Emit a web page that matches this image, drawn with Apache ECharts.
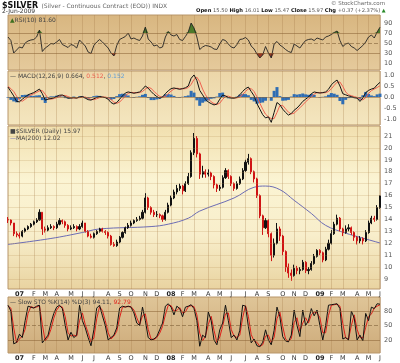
<!DOCTYPE html>
<html><head><meta charset="utf-8">
<script src="https://cdn.jsdelivr.net/npm/echarts@6/dist/echarts.min.js"></script>
<style>html,body{margin:0;padding:0;background:#fff}#c{width:400px;height:363px}</style>
</head><body><div id="c"></div>
<script>
// ---- data (weekly, first week starting 2006-12-04) ----
const startWeek = '2006-12-04';
const monthLetters = ['J','F','M','A','M','J','J','A','S','O','N','D'];
const rsiTicks = [10,30,50,70,90];
const macdTicks = [-1,-0.5,0,0.5,1];
const priceTicks = [9,10,11,12,13,14,15,16,17,18,19,20,21];
const stoTicks = [20,50,80];

// [open, close, low, high]
const priceOHLC = [
[14.0,13.95,13.7,14.2],[13.95,13.7,13.5,14.0],[13.7,12.8,12.6,13.7],[12.8,12.7,12.5,13.0],[12.7,12.6,12.4,12.9],
[12.6,13.0,12.5,13.1],[13.0,13.2,12.9,13.3],[13.2,13.4,13.1,13.5],[13.4,13.6,13.3,13.7],[13.6,13.8,13.5,13.9],
[13.8,13.95,13.7,14.1],[13.95,14.6,13.9,14.85],[14.6,13.2,12.7,14.6],[13.2,13.1,12.9,13.4],[13.1,13.3,13.0,13.5],
[13.3,13.4,13.2,13.6],[13.4,13.3,13.1,13.5],[13.3,13.6,13.2,13.8],[13.6,13.9,13.5,14.1],[13.9,13.8,13.6,14.0],
[13.8,13.5,13.3,13.9],[13.5,13.2,13.0,13.6],[13.2,13.3,13.1,13.5],[13.3,13.4,13.2,13.6],[13.4,13.2,13.0,13.5],
[13.2,13.4,13.1,13.6],[13.4,13.7,13.3,13.9],[13.7,13.0,12.9,13.7],[13.0,12.6,12.5,13.1],[12.6,12.5,12.4,12.8],
[12.5,12.8,12.4,12.9],[12.8,13.0,12.7,13.1],[13.0,13.2,12.9,13.3],[13.2,13.0,12.9,13.3],[13.0,12.9,12.7,13.1],
[12.9,12.6,12.4,13.0],[12.6,11.9,11.8,12.7],[11.9,11.8,11.7,12.1],[11.8,12.1,11.7,12.3],[12.1,12.5,12.0,12.6],
[12.5,12.9,12.4,13.0],[12.9,13.3,12.8,13.4],[13.3,13.5,13.2,13.7],[13.5,13.7,13.4,13.9],[13.7,13.9,13.6,14.0],
[13.9,14.0,13.8,14.2],[14.0,14.1,13.9,14.3],[14.1,14.6,14.0,14.8],[14.6,15.8,14.5,16.2],[15.8,15.0,14.8,15.9],
[15.0,14.6,14.4,15.1],[14.6,14.4,14.2,14.8],[14.4,14.4,14.2,14.7],[14.4,14.3,14.1,14.5],[14.3,14.0,13.8,14.4],
[14.0,14.6,13.9,14.8],[14.6,15.2,14.5,15.4],[15.2,15.8,15.1,16.0],[15.8,16.3,15.7,16.5],[16.3,16.6,16.1,16.9],
[16.6,16.8,16.4,17.0],[16.8,16.4,16.1,16.9],[16.4,17.0,16.3,17.2],[17.0,17.6,16.9,17.9],[17.6,19.6,17.5,19.8],
[19.6,20.8,19.4,21.25],[20.8,19.5,19.2,21.0],[19.5,17.8,17.4,19.6],[17.8,18.0,17.5,18.5],[18.0,17.8,17.5,18.2],
[17.8,17.9,17.6,18.2],[17.9,17.6,17.3,18.0],[17.6,16.9,16.6,17.7],[16.9,16.6,16.3,17.0],[16.6,16.7,16.4,16.9],
[16.7,17.5,16.6,17.7],[17.5,18.1,17.4,18.3],[18.1,17.6,17.4,18.2],[17.6,17.0,16.8,17.7],[17.0,16.6,16.4,17.1],
[16.6,17.0,16.5,17.2],[17.0,17.4,16.9,17.6],[17.4,18.1,17.3,18.3],[18.1,18.8,18.0,19.0],[18.8,19.1,18.6,19.5],
[19.1,18.0,17.8,19.2],[18.0,17.4,17.1,18.1],[17.4,16.0,15.8,17.5],[16.0,14.3,14.1,16.1],[14.3,13.3,12.7,14.4],
[13.3,13.9,13.2,14.1],[13.9,12.8,12.5,14.0],[12.8,11.0,10.5,12.9],[11.0,12.0,10.8,12.4],[12.0,13.2,11.9,13.7],
[13.2,12.6,12.2,13.4],[12.6,11.3,11.0,12.7],[11.3,10.0,9.6,11.4],[10.0,9.5,9.1,10.3],[9.5,9.3,8.85,9.8],
[9.3,9.9,9.2,10.2],[9.9,9.7,9.4,10.1],[9.7,9.8,9.4,10.0],[9.8,10.4,9.7,10.6],[10.4,9.7,9.5,10.5],
[9.7,9.8,9.4,10.0],[9.8,10.3,9.7,10.5],[10.3,10.9,10.2,11.1],[10.9,11.4,10.8,11.5],[11.4,11.2,11.0,11.5],
[11.2,10.6,10.4,11.3],[10.6,11.5,10.5,11.7],[11.5,12.0,11.4,12.3],[12.0,12.8,11.9,13.1],[12.8,13.6,12.7,13.8],
[13.6,14.1,13.5,14.4],[14.1,13.2,13.0,14.2],[13.2,12.9,12.6,13.3],[12.9,13.2,12.8,13.5],[13.2,13.3,13.0,13.6],
[13.3,12.9,12.7,13.4],[12.9,12.5,12.2,13.0],[12.5,12.2,11.9,12.6],[12.2,12.4,12.0,12.6],[12.4,12.2,11.9,12.5],
[12.2,12.9,12.1,13.1],[12.9,13.7,12.8,13.9],[13.7,14.1,13.6,14.3],[14.1,14.0,13.8,14.3],[14.0,15.0,13.9,15.2],
[15.0,15.97,14.9,16.01]
];

// MA(200) read at sparse weeks: [weekIndex, value]
const ma200 = [[0,11.9],[15,12.4],[26,12.9],[32,13.2],[50,13.4],[56,13.6],[63,14.1],[67,14.7],[79,15.8],
[86,16.7],[90,16.8],[95,16.5],[100,15.6],[106,14.5],[111,13.5],[118,12.85],[123,12.5],[130,12.02]];

const rsi = [62,55,30,36,42,40,50,54,56,57,62,76,33,40,44,49,48,52,57,47,44,41,47,45,40,56,50,44,32,29,
45,52,57,52,46,40,30,24,45,57,60,63,70,58,60,57,55,64,82,58,52,44,46,40,42,62,73,66,64,67,
57,55,63,72,90,80,62,37,42,45,44,42,38,37,48,57,55,48,42,40,47,57,58,61,56,44,38,28,20,26,
43,30,20,48,53,46,42,37,33,31,48,44,40,48,55,57,58,55,60,58,56,62,64,67,71,74,55,43,48,50,
43,40,35,40,45,52,62,66,60,72,81.6];

const macd = [.45,.25,.05,-.2,-.22,-.1,0,.1,.15,.2,.28,.36,.15,-.14,-.1,-.07,-.04,.03,.08,.09,
.02,-.05,-.05,-.03,-.05,0,.02,-.05,-.12,-.14,-.08,-.02,.02,0,-.03,-.1,-.25,-.32,-.25,-.1,
.05,.18,.23,.2,.17,.2,.23,.35,.5,.4,.25,.12,.02,-.05,0,.15,.28,.38,.41,.38,
.35,.38,.42,.5,.85,1.0,.75,.3,.1,-.1,-.23,-.3,-.36,-.32,-.1,.09,.05,-.02,-.05,-.05,
-.02,.1,.25,.38,.45,.25,.05,-.3,-.55,-.8,-.95,-.9,-1.15,-.7,-.25,-.35,-.55,-.7,-.82,-.75,
-.6,-.5,-.36,-.2,-.1,0,.15,.23,.2,.18,.2,.23,.35,.55,.68,.77,.5,.15,.1,.05,
.02,-.03,-.05,-.2,-.05,.2,.3,.36,.4,.55,.664];

const macdSignal = [.48,.38,.25,.04,-.14,-.19,-.1,0,.09,.15,.21,.28,.29,.13,-.06,-.1,-.07,-.03,.03,.07,
.07,.02,-.03,-.05,-.04,-.03,-.01,0,-.05,-.11,-.12,-.08,-.03,0,0,-.04,-.12,-.23,-.29,-.23,
-.1,.05,.16,.21,.2,.19,.2,.25,.36,.44,.39,.26,.13,.03,-.02,.03,.15,.27,.36,.4,
.38,.37,.38,.43,.57,.8,.9,.7,.36,.1,-.08,-.22,-.3,-.34,-.28,-.11,.03,.04,-.01,-.04,
-.04,0,.11,.25,.37,.38,.25,.01,-.28,-.55,-.78,-.9,-.98,-.98,-.7,-.39,-.38,-.54,-.69,-.77,
-.73,-.61,-.49,-.36,-.22,-.1,.01,.13,.2,.2,.19,.2,.25,.37,.53,.67,.68,.48,.23,.1,
.06,.02,-.02,-.08,-.13,-.03,.16,.29,.36,.43,.512];

const macdHist = [-.03,-.13,-.2,-.24,-.08,.09,.1,.1,.06,.05,.07,.08,-.14,-.27,-.04,.03,.03,.06,.05,.02,
-.05,-.07,-.02,.02,-.01,.03,.03,-.05,-.07,-.03,.04,.06,.05,0,-.03,-.06,-.13,-.09,.04,.13,
.15,.13,.07,-.01,-.03,.01,.03,.1,.14,-.04,-.14,-.14,-.11,-.08,.02,.12,.13,.11,.05,-.02,
-.03,.01,.04,.07,.28,.2,-.15,-.4,-.26,-.2,-.15,-.08,-.06,.02,.18,.2,.02,-.06,-.04,-.01,
.02,.1,.14,.13,.08,-.13,-.2,-.31,-.27,-.25,-.17,0,-.17,.28,.45,.04,-.17,-.16,-.13,.02,
.13,.11,.13,.16,.12,.1,.14,.1,0,-.02,.01,.03,.1,.18,.15,.1,-.18,-.33,-.13,-.05,
-.04,-.05,-.03,-.12,.08,.23,.14,.07,.04,.12,.152];

const stoK = [92,80,12,15,32,25,60,90,88,86,90,92,14,22,30,55,75,88,92,85,
50,20,36,25,30,92,60,45,25,8,41,86,92,70,50,20,25,30,45,86,
90,88,90,88,76,55,50,88,60,25,20,22,27,41,55,90,95,88,72,90,
85,68,88,90,93,85,60,7,30,25,78,60,20,10,41,55,92,60,25,30,
20,40,92,90,48,14,22,8,6,15,41,20,10,40,88,68,27,18,16,30,
82,50,27,82,50,60,85,70,82,50,20,50,92,93,94,95,85,22,25,20,
80,65,20,30,18,75,60,88,85,95,94.11];

const stoD = [90,86,45,14,22,28,42,75,89,87,88,91,52,18,26,42,65,82,90,88,
68,35,28,30,28,60,76,52,35,16,24,64,89,81,60,35,22,28,38,66,
88,89,89,89,82,66,52,70,74,42,22,21,25,34,48,72,92,91,80,81,
87,76,78,89,91,89,72,34,18,28,52,69,40,15,26,48,74,76,42,28,
25,30,66,91,69,31,18,15,7,10,28,30,15,25,64,78,48,22,17,23,
56,66,38,55,66,55,72,78,76,66,35,35,71,92,93,94,90,54,24,22,
50,72,42,25,24,46,68,74,86,90,92.79];

// ---- build categories ----
const weeks = [];
(function(){ const t0 = Date.parse(startWeek+'T00:00:00Z');
  for (let i=0;i<rsi.length;i++){ weeks.push(new Date(t0+i*7*864e5).toISOString().slice(0,10)); } })();
const monthOf = s => +s.slice(5,7)-1;
const isMonthStart = (i) => i>0 && monthOf(weeks[i]) !== monthOf(weeks[i-1]);
const monthLabel = (v) => { const m = monthOf(v); return m===0 ? '{y|'+v.slice(2,4)+'}' : monthLetters[m]; };

const rsiHi = rsi.map(v => Math.max(v,70));
const rsiLo = rsi.map(v => Math.min(v,30));

const FONT = 'DejaVu Sans';
const L = 8, R = 20;
const grad = (stops) => ({type:'linear',x:0,y:0,x2:0,y2:1,colorStops:stops.map((c,i)=>({offset:i/(stops.length-1),color:c}))});
const gridDefs = [
  {top:15,height:55,bg:grad(['#d8b680','#e5ca9c'])},
  {top:71,height:54,bg:grad(['#ecd6a8','#f4e6bf'])},
  {top:126,height:163,bg:grad(['#f1dfae','#fbf4d3','#f8eecb','#e9d3a0'])},
  {top:297,height:56,bg:grad(['#dfc598','#cdab7a'])}
];
const yDefs = [
  {min:-4,max:106,ticks:rsiTicks},
  {min:-1.27,max:1.18,ticks:macdTicks},
  {min:8.16,max:21.84,ticks:priceTicks},
  {min:-7,max:109,ticks:stoTicks}
];
const vGrid = {show:true, interval:(i)=>isMonthStart(i), lineStyle:{color:'rgba(160,120,70,0.28)',width:1}};
const hLine = (vals, dashedVal) => ({silent:true,symbol:'none',label:{show:false},animation:false,
  data: vals.map(v=>({yAxis:v,lineStyle:{color: v===dashedVal?'rgba(120,90,50,0.55)':'rgba(140,100,55,0.55)',type: v===dashedVal?'dashed':'solid',width:1}}))});

const option = {
  animation:false,
  backgroundColor:'#ffffff',
  grid: gridDefs.map(g=>({left:L,right:R,top:g.top,height:g.height,show:true,backgroundColor:g.bg,borderColor:'#b8966a',borderWidth:1})),
  xAxis: gridDefs.map((g,k)=>({type:'category',gridIndex:k,data:weeks,boundaryGap:false,
    axisLine:{show:false},axisTick:{show:false},splitLine:vGrid,
    axisLabel:{show:(k===2||k===3),interval:(i)=>isMonthStart(i),formatter:monthLabel,fontSize:6.5,fontFamily:FONT,color:'#333',margin:2,
      rich:{y:{fontSize:6.5,fontWeight:'bold',fontFamily:FONT,color:'#222'}}}})),
  yAxis: yDefs.map((d,k)=>({type:'value',gridIndex:k,position:'right',min:d.min,max:d.max,scale:true,
    axisLine:{show:false},axisTick:{show:false},splitLine:{show:false},
    axisLabel:{customValues:d.ticks,fontSize:6.5,fontFamily:FONT,color:'#555',margin:4,
      formatter:(v)=> k===1 ? v.toFixed(1) : String(v)}})),
  series: [
    {type:'line',xAxisIndex:0,yAxisIndex:0,data:rsiHi,symbol:'none',lineStyle:{width:0},areaStyle:{color:'#4d7a2a',origin:70,opacity:1},z:2,silent:true},
    {type:'line',xAxisIndex:0,yAxisIndex:0,data:rsiLo,symbol:'none',lineStyle:{width:0},areaStyle:{color:'#9b3b25',origin:30,opacity:1},z:2,silent:true},
    {type:'line',xAxisIndex:0,yAxisIndex:0,data:rsi,symbol:'none',lineStyle:{color:'#222',width:0.9},z:3,markLine:hLine([30,50,70],50)},
    {type:'bar',xAxisIndex:1,yAxisIndex:1,data:macdHist,barWidth:3,itemStyle:{color:'#2f6db3'},z:2,
      markLine:hLine([0],null)},
    {type:'line',xAxisIndex:1,yAxisIndex:1,data:macdSignal,symbol:'none',lineStyle:{color:'#f0604f',width:1},z:3},
    {type:'line',xAxisIndex:1,yAxisIndex:1,data:macd,symbol:'none',lineStyle:{color:'#111',width:1},z:4},
    {type:'line',xAxisIndex:2,yAxisIndex:2,data:ma200,symbol:'none',smooth:0.4,lineStyle:{color:'#6c6cb4',width:1},z:3,
      markLine:{silent:true,symbol:'none',label:{show:false},data:priceTicks.map(v=>({yAxis:v})),lineStyle:{color:'rgba(180,140,80,0.22)',type:'solid',width:1}}},
    {type:'candlestick',xAxisIndex:2,yAxisIndex:2,data:priceOHLC,barWidth:1.6,z:4,
      itemStyle:{color:'#111',color0:'#d01414',borderColor:'#111',borderColor0:'#d01414',borderWidth:1}},
    {type:'line',xAxisIndex:3,yAxisIndex:3,data:stoD,symbol:'none',lineStyle:{color:'#e0201a',width:1},z:3,markLine:hLine([20,50,80],50)},
    {type:'line',xAxisIndex:3,yAxisIndex:3,data:stoK,symbol:'none',lineStyle:{color:'#111',width:1},z:4}
  ],
  graphic: [
    {type:'text',left:2,top:0,style:{text:'{t|$SILVER} {s|(Silver - Continuous Contract (EOD)) INDX}',
      rich:{t:{font:'bold 8px '+FONT,fill:'#111'},s:{font:'6px '+FONT,fill:'#666'}}}},
    {type:'text',left:2,top:8,style:{text:'2-Jun-2009',font:'6px '+FONT,fill:'#333'}},
    {type:'text',right:15,top:1,style:{text:'© StockCharts.com',font:'5.5px '+FONT,fill:'#666'}},
    {type:'text',left:196,top:8,style:{text:'{b|Open} 15.50 {b|High} 16.01 {b|Low} 15.47 {b|Close} 15.97 {b|Chg} +0.37 (+2.37%) {g|▲}',
      font:'5.2px '+FONT,fill:'#555',rich:{b:{font:'bold 5.2px '+FONT,fill:'#111'},g:{font:'5px '+FONT,fill:'#2a8a2a'}}}},
    {type:'text',left:10,top:17,style:{text:'{g|▲}RSI(10) 81.60',font:'6px '+FONT,fill:'#444',rich:{g:{font:'6px '+FONT,fill:'#3f6f20'}}}},
    {type:'text',left:10,top:73,style:{text:'— MACD(12,26,9) 0.664, {r|0.512}, {b|0.152}',font:'6px '+FONT,fill:'#444',
      rich:{r:{font:'6px '+FONT,fill:'#f0604f'},b:{font:'6px '+FONT,fill:'#5f9fd8'}}}},
    {type:'text',left:10,top:128,style:{text:'■$SILVER (Daily) 15.97',font:'6px '+FONT,fill:'#444'}},
    {type:'text',left:10,top:135,style:{text:'{m|—}MA(200) 12.02',font:'6px '+FONT,fill:'#444',rich:{m:{font:'6px '+FONT,fill:'#6c6cb4'}}}},
    {type:'text',left:10,top:299,style:{text:'— Slow STO %K(14) %D(3) 94.11, {r|92.79}',font:'6px '+FONT,fill:'#444',
      rich:{r:{font:'6px '+FONT,fill:'#e0201a'}}}}
  ]
};
const chart = echarts.init(document.getElementById('c'), null, {renderer:'canvas'});
chart.setOption(option);
</script></body></html>
